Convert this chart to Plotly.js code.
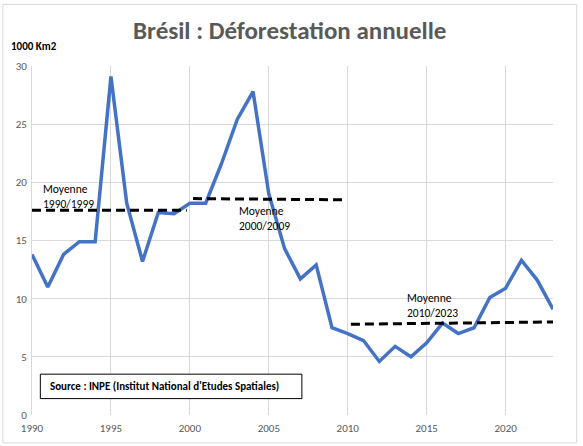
<!DOCTYPE html>
<html>
<head>
<meta charset="utf-8">
<script src="https://cdn.plot.ly/plotly-3.0.1.min.js"></script>
<style>html,body{margin:0;padding:0;background:#fff;}#chart{width:583px;height:446px;}</style>
</head>
<body>
<div id="chart"></div>
<script>
const years = [1990,1991,1992,1993,1994,1995,1996,1997,1998,1999,2000,2001,2002,2003,2004,2005,2006,2007,2008,2009,2010,2011,2012,2013,2014,2015,2016,2017,2018,2019,2020,2021,2022,2023];
const deforestation = [13.8,11.0,13.8,14.9,14.9,29.1,18.2,13.2,17.4,17.3,18.2,18.2,21.6,25.4,27.8,19.0,14.3,11.7,12.9,7.5,7.0,6.4,4.6,5.9,5.0,6.2,7.9,7.0,7.5,10.1,10.9,13.3,11.6,9.1];
const meanYears1 = [1990, 1999.8];
const meanValues1 = [17.6, 17.6];
const meanYears2 = [2000.2, 2009.7];
const meanValues2 = [18.6, 18.5];
const meanYears3 = [2010.2, 2023.2];
const meanValues3 = [7.8, 8.0];
const meanLabels = ["Moyenne<br>1990/1999", "Moyenne<br>2000/2009", "Moyenne<br>2010/2023"];
const titleText = "Brésil : Déforestation annuelle";
const unitText = "1000 Km2";
const sourceText = "Source : INPE (Institut National d'Etudes Spatiales)";

const font = "Carlito, 'Liberation Sans Narrow', 'Arial Narrow', 'Liberation Sans', Arial, sans-serif";
const dashStyle = {color:'#000', width:3, dash:'9px,5px'};

const traces = [
  {x: years, y: deforestation, type:'scatter', mode:'lines', line:{color:'#4472C4', width:3.5}, hoverinfo:'x+y'},
  {x: meanYears1, y: meanValues1, type:'scatter', mode:'lines', line:dashStyle},
  {x: meanYears2, y: meanValues2, type:'scatter', mode:'lines', line:dashStyle},
  {x: meanYears3, y: meanValues3, type:'scatter', mode:'lines', line:dashStyle}
];

const layout = {
  width:583, height:446,
  margin:{l:32, r:30, t:66, b:31},
  paper_bgcolor:'#fff', plot_bgcolor:'#fff',
  showlegend:false,
  font:{family:font, color:'#595959', size:11},
  title:{text:'<b>'+titleText+'</b>', font:{family:font, size:25, color:'#595959'}, x:0.497, xanchor:'center', y:0.933, yanchor:'middle'},
  xaxis:{range:[1990,2023], dtick:5, tick0:1990, showgrid:true, gridcolor:'#d9d9d9', gridwidth:1, zeroline:false, showline:false, ticks:'', ticklabelstandoff:5, tickfont:{size:11, color:'#595959'}, fixedrange:true},
  yaxis:{range:[0,30], dtick:5, showgrid:true, gridcolor:'#d9d9d9', gridwidth:1, zeroline:false, showline:true, linecolor:'#d9d9d9', linewidth:1, ticks:'', ticklen:0, ticklabelstandoff:2, tickfont:{size:11, color:'#595959'}, fixedrange:true},
  shapes:[
    {type:'rect', xref:'paper', yref:'paper', x0:-0.056, x1:1.0455, y0:-0.080, y1:1.1765, line:{color:'#d9d9d9', width:1}, layer:'below'},
    {type:'rect', xref:'paper', yref:'paper', x0:0.016, x1:0.518, y0:0.047, y1:0.117, line:{color:'#000', width:1}, fillcolor:'#fff', layer:'above'}
  ],
  annotations:[
    {text:'<b>'+unitText+'</b>', xref:'paper', yref:'paper', x:-0.045, y:1.057, xanchor:'left', yanchor:'middle', showarrow:false, font:{family:font, size:11, color:'#000'}},
    {text:meanLabels[0], x:1990.6, y:18.8, xanchor:'left', yanchor:'middle', align:'left', showarrow:false, font:{family:font, size:11.5, color:'#000'}},
    {text:meanLabels[1], x:2003.0, y:16.9, xanchor:'left', yanchor:'middle', align:'left', showarrow:false, font:{family:font, size:11.5, color:'#000'}},
    {text:meanLabels[2], x:2013.6, y:9.45, xanchor:'left', yanchor:'middle', align:'left', showarrow:false, font:{family:font, size:11.5, color:'#000'}},
    {text:'<b>'+sourceText+'</b>', xref:'paper', yref:'paper', x:0.031, y:0.082, xanchor:'left', yanchor:'middle', showarrow:false, font:{family:font, size:11, color:'#000'}}
  ]
};

Plotly.newPlot('chart', traces, layout, {displayModeBar:false, staticPlot:true});
</script>
</body>
</html>
